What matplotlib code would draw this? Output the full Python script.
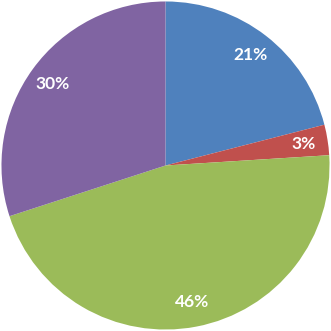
import matplotlib.pyplot as plt

labels = ['A', 'B', 'C', 'D']
values = [21, 3, 46, 30]
colors = ['#4F81BD', '#C0504D', '#9BBB59', '#8064A2']

fig = plt.figure(figsize=(3.31, 3.31), dpi=100)
ax = fig.add_axes([0, 0, 1, 1])
wedges, texts, autotexts = ax.pie(values, colors=colors, startangle=90, counterclock=False,
                                  autopct='%1.0f%%', pctdistance=0.85,
                                  wedgeprops={'linewidth': 0})
for t in autotexts:
    t.set_color('white')
    t.set_fontsize(12.5)
    t.set_fontweight('bold')
    t.set_family(['Lato', 'DejaVu Sans'])
ax.set_xlim(-1.009, 1.009)
ax.set_ylim(-1.009, 1.009)
ax.set_aspect('equal')
ax.axis('off')
fig.savefig('out.png', dpi=100, facecolor='white')
